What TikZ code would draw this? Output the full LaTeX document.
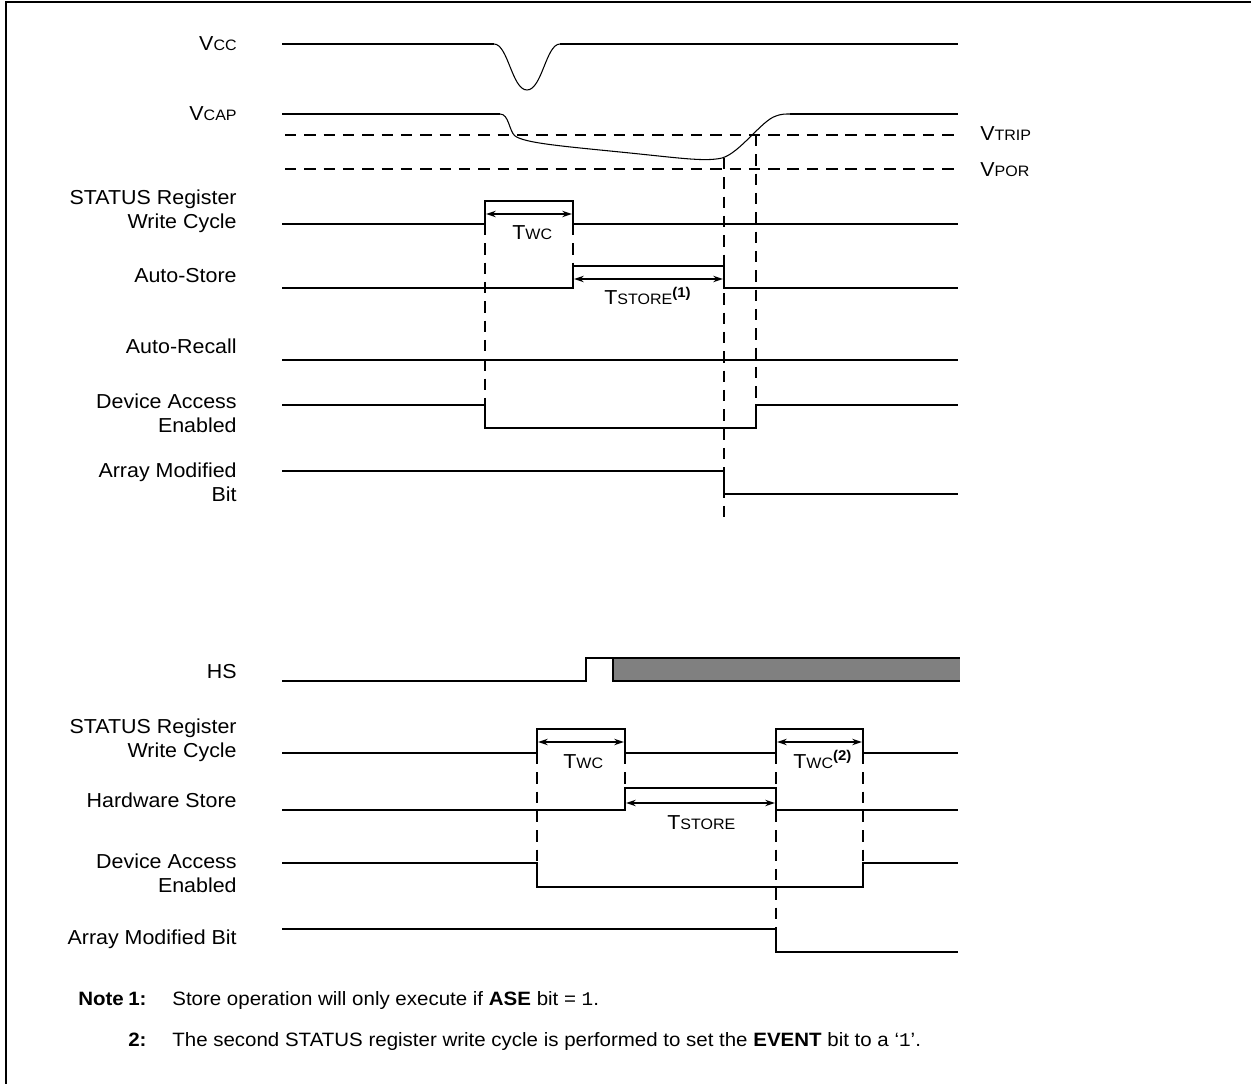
\documentclass[tikz,border=0pt]{standalone}
\usepackage{fontspec}
\usetikzlibrary{arrows.meta}
\setmainfont[FakeStretch=1.06]{Liberation Sans}
\setmonofont{Liberation Mono}
\newcommand{\sm}[1]{{\fontsize{8.6}{10}\selectfont #1}}
\newcommand{\supn}[1]{\textsuperscript{\textbf{(#1)}}}
\begin{document}
\begin{tikzpicture}[x=0.02cm,y=-0.02cm,line join=miter,>={Stealth[length=5.5pt,width=3.6pt]},font=\fontsize{11.5}{13.6}\selectfont]
\tikzset{sig/.style={line width=1.2pt},
	wave/.style={line width=0.6pt},
	grid/.style={line width=1pt,dash pattern=on 6.5pt off 4.5pt},
	span/.style={<->,line width=1pt},
	lbl/.style={anchor=east,align=right,inner sep=0pt},
	tlbl/.style={anchor=base west,inner sep=0pt}}
\useasboundingbox (0,0) rectangle (1251,1084);
%%Khung
\draw[line width=1.5pt] (6,1084)--(6,2)--(1251,2);
%%Nhan ben trai
\foreach \n/\y/\t in {vcc/44/{V\sm{CC}},vcap/114/{V\sm{CAP}},wc/211/{STATUS Register\\Write Cycle},as/276/{Auto-Store},ar/346/{Auto-Recall},dae/413/{Device Access\\Enabled},amb/482/{Array Modified\\Bit},hs/672/{HS},wcb/740/{STATUS Register\\Write Cycle},hws/800/{Hardware Store},daeb/873/{Device Access\\Enabled},ambb/939/{Array Modified Bit}}{
	\node[lbl] (\n) at (237,\y) {\t};
}
\node[anchor=west,inner sep=0pt] (vtrip) at (980,134) {V\sm{TRIP}};
\node[anchor=west,inner sep=0pt] (vpor) at (980,170) {V\sm{POR}};
%%Vcc, Vcap
\draw[sig] (282,44)--(494,44) (560,44)--(958,44);
\draw[wave] (494,44) .. controls (508,44) and (512,90) .. (527,90) .. controls (542,90) and (546,44) .. (560,44);
\draw[sig] (282,114)--(500,114) (790,114)--(958,114);
\draw[wave] (500,114) .. controls (509,114) and (509,131) .. (515,136) .. controls (525,143) and (560,146) .. (620,152) .. controls (680,158) and (705,162) .. (722,158) .. controls (740,153) and (762,120) .. (776,116) .. controls (781,114) and (785,114) .. (790,114);
\draw[grid] (285,135)--(958,135) (285,169)--(958,169);
%%Phan tren
\draw[grid] (485,224)--(485,405) (573,224)--(573,266) (724,158)--(724,518) (756,135)--(756,405);
\draw[sig] (282,224)--(485,224)--(485,201)--(573,201)--(573,224)--(958,224);
\draw[sig] (282,288)--(573,288)--(573,266)--(724,266)--(724,288)--(958,288);
\draw[sig] (282,360)--(958,360);
\draw[sig] (282,405)--(485,405)--(485,428)--(756,428)--(756,405)--(958,405);
\draw[sig] (282,471)--(724,471)--(724,494)--(958,494);
\draw[span] (486,214)--(572,214);
\draw[span] (574,279)--(723,279);
\node[tlbl] (twc) at (512,240) {T\sm{WC}};
\node[tlbl] (tstore) at (604,305) {T\sm{STORE}\supn{1}};
%%Phan duoi
\fill[black!50] (613,658) rectangle (960,681);
\draw[sig] (282,681)--(586,681)--(586,658)--(613,658)--(613,681)--(960,681) (613,658)--(960,658);
\draw[grid] (537,753)--(537,863) (625,753)--(625,788) (776,753)--(776,952) (863,753)--(863,863);
\draw[sig] (282,753)--(537,753)--(537,729)--(625,729)--(625,753)--(776,753)--(776,729)--(863,729)--(863,753)--(958,753);
\draw[sig] (282,810)--(625,810)--(625,788)--(776,788)--(776,810)--(958,810);
\draw[sig] (282,863)--(537,863)--(537,887)--(863,887)--(863,863)--(958,863);
\draw[sig] (282,929)--(776,929)--(776,952)--(958,952);
\draw[span] (538,742)--(624,742);
\draw[span] (777,742)--(862,742);
\draw[span] (626,803)--(775,803);
\node[tlbl] (twcb) at (563,768) {T\sm{WC}};
\node[tlbl] (twcc) at (793,768) {T\sm{WC}\supn{2}};
\node[tlbl] (tstoreb) at (667,829) {T\sm{STORE}};
%%Ghi chu
\begin{scope}[font=\fontsize{11}{13}\selectfont]
\node[tlbl] (note) at (78,1005) {\textbf{Note}};
\node[tlbl] (n1) at (128,1005) {\textbf{1:}};
\node[tlbl] (n1t) at (172,1005) {Store operation will only execute if \textbf{ASE} bit = \texttt{1}.};
\node[tlbl] (n2) at (128,1046) {\textbf{2:}};
\node[tlbl] (n2t) at (172,1046) {The second STATUS register write cycle is performed to set the \textbf{EVENT} bit to a `\texttt{1}'.};
\end{scope}
\end{tikzpicture}
\end{document}
